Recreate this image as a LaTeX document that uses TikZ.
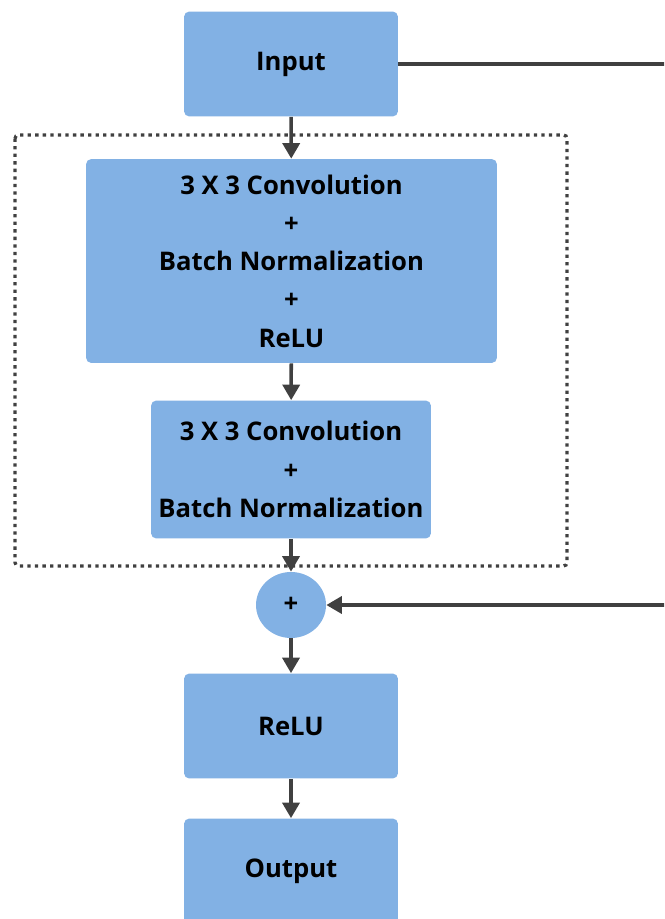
\documentclass[tikz,border=0pt]{standalone}
\usepackage{fontspec}
\setmainfont{Open Sans}
\usetikzlibrary{arrows.meta,positioning,calc,shapes.geometric}
\definecolor{boxblue}{RGB}{130,177,228}
\definecolor{linegray}{RGB}{64,64,64}

\tikzset{
	block/.style={fill=boxblue,rounded corners=3pt,align=center,
		font=\fontsize{14.6pt}{21.8pt}\selectfont\bfseries},
	flow/.style={-{Triangle[width=3.4mm,length=3.1mm]},line width=2pt,draw=linegray},
}

\begin{document}
\begin{tikzpicture}[x=0.02cm,y=-0.02cm]
	\useasboundingbox (0,0) rectangle (664,919);
	\clip (0,0) rectangle (664,919);
	
	\node[block,minimum width=4.28cm,minimum height=2.1cm] (input) at (291,64) {Input};
	\node[block,minimum width=8.22cm,minimum height=4.08cm] (conv1) at (291.5,261)
		{3 X 3 Convolution\\+\\Batch Normalization\\+\\ReLU};
	\node[block,minimum width=5.6cm,minimum height=2.76cm] (conv2) at (291,469.5)
		{3 X 3 Convolution\\+\\Batch Normalization};
	\node[block,ellipse,minimum width=1.4cm,minimum height=1.32cm,inner sep=0pt] (add) at (291,605) {+};
	\node[block,minimum width=4.28cm,minimum height=2.1cm] (relu) at (291,726) {ReLU};
	\node[block,minimum width=4.28cm,minimum height=2.1cm] (output) at (291,871) {Output};
	
	% residual body
	\draw[linegray,line width=1.9pt,dash pattern=on 1.9pt off 2.4pt,rounded corners=2pt]
		(15,135) rectangle (567,566);
	
	\draw[flow] (input) -- (conv1);
	\draw[flow] (conv1) -- (conv2);
	\draw[flow] (conv2) -- (add);
	\draw[flow] (add) -- (relu);
	\draw[flow] (relu) -- (output);
	
	% skip connection
	\coordinate (skip) at (700,605);
	\draw[flow] (input.east) -- (input.east -| skip) -- (skip) -- (add.east);
\end{tikzpicture}
\end{document}
